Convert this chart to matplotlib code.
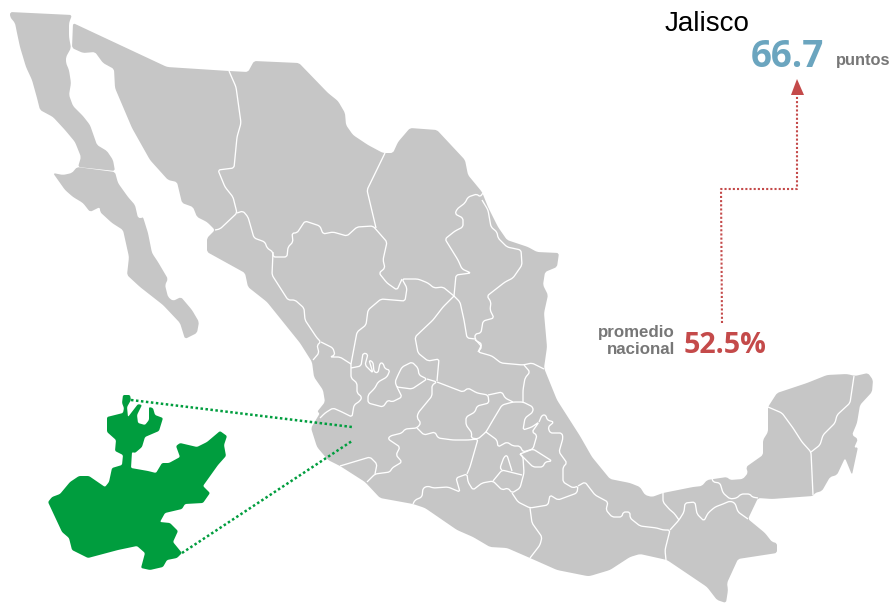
import math
import matplotlib
matplotlib.use('Agg')
import matplotlib.pyplot as plt
from matplotlib.patches import PathPatch, Polygon
from matplotlib.path import Path

GRAY = '#c6c6c6'
GREEN = '#009d3e'
RED = '#c44a4a'
BLUE = '#6ba5bf'
TEXT_GRAY = '#777777'

# map outlines (x, y in image pixels)
baja_norte = [(10,12),(72,15),(69,23),(69,37),(71,48),(66,57),(66,63),(69,70),(71,83),(69,95),(73,106),
              (83,116),(90,125),(97,145),(107,151),(113,160),(115,171),(78,167),(81,157),(75,142),(65,130),
              (53,117),(40,110),(37,98),(32,80),(26,67),(20,47),(17,33),(15,23),(10,17)]
baja_sur = [(53,173),(63,175),(72,173),(77,167),(115,172),(118,183),(128,197),(135,205),(138,218),(142,218),
            (143,217),(148,233),(152,253),(158,262),(168,279),(165,285),(168,297),(173,301),(181,297),(192,310),
            (199,322),(197,333),(185,339),(180,323),(163,305),(140,287),(127,275),(129,257),(123,230),(112,223),
            (100,212),(100,207),(90,212),(83,203),(73,197),(65,190)]
mainland = [(73,23),(167,67),(229,71),(248,72),(254,61),(299,63),(328,93),(338,101),(345,113),(346,125),
            (353,135),(368,145),(383,153),(393,153),(398,142),(410,128),(437,130),(465,160),(468,175),(482,192),
            (488,207),(498,227),(507,240),(528,247),(537,252),(559,253),(557,267),(545,272),(543,285),(548,295),
            (544,313),(547,347),(544,368),(557,400),(580,436),(592,457),(610,479),(630,483),(640,487),(645,495),
            (652,497),(663,493),(693,487),(702,486),(707,480),(727,477),(730,480),(743,479),(748,473),(746,467),
            (763,455),(763,440),(768,432),(768,407),(777,393),(807,383),(827,375),(847,374),(855,376),(868,373),
            (873,380),(872,392),(860,405),(857,423),(852,435),(858,439),(854,448),(858,447),(852,475),(845,458),
            (837,475),(830,477),(822,491),(815,493),(813,496),(772,499),(758,498),(748,519),(765,533),(772,542),
            (777,543),(777,553),(738,559),(727,583),(728,590),(726,603),(717,600),(707,587),(667,560),(640,554),
            (630,557),(610,570),(590,576),(587,576),(557,570),(530,558),(507,548),(490,547),(473,537),(457,530),
            (425,508),(413,504),(380,498),(365,482),(340,466),(328,460),(317,447),(311,428),(320,413),(317,412),
            (325,402),(323,390),(314,377),(312,362),(300,343),(267,302),(248,287),(245,273),(207,252),(207,238),
            (215,230),(207,222),(197,217),(193,207),(182,203),(177,182),(168,180),(150,160),(132,128),(115,88),
            (114,69),(103,63),(95,52),(83,53),(72,48)]

# state borders
borders = [
    [(229,71),(236,87),(241,123),(237,137),(234,168),(218,170),(225,187),(233,197),(237,213),(220,229),(215,230)],
    [(237,213),(243,211),(248,217),(254,238),(265,242),(267,248),(273,252),(273,257),(287,257),(288,247),(293,242),
     (292,233),(297,233),(305,221),(320,226),(323,234),(333,232),(347,236),(357,227),(373,226),(387,242),(383,260),
     (385,268),(379,273),(387,283),(397,290),(402,279)],
    [(385,153),(367,190),(376,228)],
    [(273,252),(272,275),(288,300),(295,300),(304,308),(305,320),(317,338),(321,342),(317,345),(319,353),(313,360)],
    [(321,342),(333,348),(335,355),(330,357),(340,357),(351,364)],
    [(351,364),(357,332),(366,325),(368,310),(381,299),(405,301),(407,288),(402,279),(418,279),(428,283),(434,288),
     (443,287),(454,296)],
    [(454,296),(456,275),(471,273),(462,269),(458,260),(445,239),(455,231),(463,227),(463,218),(455,214),(457,209),
     (465,203),(468,197),(477,194),(480,197),(483,193)],
    [(482,200),(488,210),(491,227),(497,232),(498,238),(507,247),(521,250),(522,265),(513,278),(505,282),(487,296),
     (491,302),(490,310),(494,318),(483,321),(481,333),(475,334),(475,339),(482,347),(478,352),(492,356),(501,363),
     (523,365),(532,363),(538,366),(544,369)],
    [(454,296),(460,302),(464,320),(467,338),(475,339)],
    [(454,296),(443,307),(433,320),(415,337),(418,353),(428,361),(439,359),(437,381)],
    [(351,364),(351,378),(357,383),(357,393),(362,397),(360,401),(354,405),(352,417),(342,412),(333,408),(325,413),(320,418)],
    [(351,368),(361,366),(363,353),(368,354),(365,365),(373,373),(369,360),(373,362),(374,372),(378,373),(380,363),
     (383,363),(385,369),(390,370),(387,377),(378,382),(375,388),(368,395),(368,403),(383,407),(388,400),(392,402),
     (402,397),(397,387)],
    [(397,387),(395,382),(398,375),(402,367),(412,362),(418,368),(419,375),(427,379),(412,389),(397,387)],
    [(427,379),(437,382),(432,385),(432,396),(418,413),(417,418),(421,423),(417,428),(405,429),(402,433),(390,436),
     (388,439),(400,447),(396,455),(402,462),(392,468),(390,472),(375,474),(367,482)],
    [(340,466),(370,457),(377,464),(375,474)],
    [(413,504),(415,500),(422,497),(423,488),(428,486),(433,488),(448,487),(460,492),(456,478),(467,474),(468,482),
     (473,490),(482,483),(493,481),(502,490),(508,488),(512,493),(520,488),(524,473),(523,457),(520,454)],
    [(417,428),(424,435),(435,432),(438,438),(453,440),(468,440),(478,439),(470,467),(467,474)],
    [(437,382),(463,392),(468,388),(477,393),(488,395),(489,403),(477,406),(475,412),(466,417),(466,425),(472,433),
     (471,438),(478,439),(486,432),(493,420),(502,405),(513,402),(523,402),(533,407),(533,412),(525,418),(523,430),
     (532,427),(539,422),(532,432),(537,435),(533,449),(523,452),(520,446),(513,446),(507,442),(498,447),(497,440),(486,432)],
    [(488,395),(502,392),(505,398),(513,402)],
    [(523,402),(523,390),(525,378),(530,372),(524,365)],
    [(475,340),(482,344),(478,352)],
    [(520,454),(533,449),(552,461),(545,462),(543,467),(533,467),(520,454)],
    [(539,422),(542,415),(546,415),(547,420),(554,422),(548,427),(550,433),(562,433),(563,438),(559,452),(567,463),
     (563,467),(563,482),(573,488),(578,486),(577,493),(558,500),(550,495),(548,505),(530,508),(518,502),(512,493)],
    [(530,508),(532,523),(542,537),(540,545),(530,558)],
    [(493,481),(502,470),(522,475)],
    [(502,470),(500,468),(504,457),(507,455),(512,471)],
    [(578,486),(585,482),(595,495),(608,502),(606,510),(612,517),(622,517),(623,512),(630,512),(630,518),(640,526),
     (657,528),(663,530),(670,530),(665,550),(666,560)],
    [(670,530),(679,520),(684,512),(685,503),(695,502),(697,514),(704,521),(708,513),(715,507),(723,504),(730,501),
     (735,503),(738,512),(748,519)],
    [(663,493),(663,502),(670,510),(674,513),(679,520)],
    [(712,478),(713,482),(720,483),(723,493),(730,499),(737,498),(741,494),(750,494),(752,497),(758,498)],
    [(768,407),(782,413),(793,428),(802,442),(811,452),(813,495)],
    [(854,376),(850,403),(837,415),(835,423),(823,435),(820,445),(811,452)],
]

# inset of the highlighted state
jalisco = [(123,395),(130,395),(131,400),(127,407),(128,417),(138,404),(142,405),(137,415),(138,423),(145,425),
           (149,420),(149,407),(153,408),(155,415),(163,418),(159,431),(145,437),(142,447),(135,453),(132,452),
           (131,468),(148,471),(156,473),(162,463),(169,463),(180,457),(176,446),(180,443),(197,447),(207,442),
           (220,431),(227,436),(224,445),(226,456),(218,465),(203,486),(210,493),(203,503),(185,504),(182,509),
           (165,513),(160,522),(170,523),(178,531),(173,542),(182,553),(177,558),(167,560),(163,567),(150,570),
           (141,568),(145,553),(137,546),(118,550),(88,558),(72,550),(69,538),(62,532),(48,502),(52,497),(60,494),
           (70,482),(79,476),(89,476),(105,487),(109,482),(112,468),(122,465),(123,455),(115,451),(116,440),
           (107,432),(107,417),(123,413),(124,408),(122,403)]
inset_top_x = [131, 352]
inset_top_y = [400, 427]
inset_bottom_x = [182, 352]
inset_bottom_y = [553, 441]

route_x = [722, 721, 797, 797]
route_y = [323, 189, 189, 93]
arrow_head = [(797,79),(804,95),(791,95)]


def rounded_path(points, closed=False, r=3.5):
    # cut every corner with a small curve so the outlines are not jagged
    n = len(points)
    def toward(p, q):
        d = math.hypot(q[0] - p[0], q[1] - p[1])
        t = min(r / d, 0.5) if d else 0
        return (p[0] + (q[0] - p[0]) * t, p[1] + (q[1] - p[1]) * t)

    verts, codes = [], []
    idx = range(n) if closed else range(1, n - 1)
    for i in idx:
        p = points[i]
        a = toward(p, points[i - 1])
        b = toward(p, points[(i + 1) % n])
        if not verts:
            start = a if closed else points[0]
            verts.append(start)
            codes.append(Path.MOVETO)
            if not closed:
                verts.append(a)
                codes.append(Path.LINETO)
        else:
            verts.append(a)
            codes.append(Path.LINETO)
        verts += [p, b]
        codes += [Path.CURVE3, Path.CURVE3]
    if closed:
        verts.append(verts[0])
        codes.append(Path.LINETO)
    else:
        verts.append(points[-1])
        codes.append(Path.LINETO)
    return Path(verts, codes)


fig = plt.figure(figsize=(8.93, 6.04), dpi=100)
ax = fig.add_axes([0, 0, 1, 1])
ax.set_xlim(0, 893)
ax.set_ylim(604, 0)
ax.axis('off')

for shape in [baja_norte, baja_sur, mainland]:
    ax.add_patch(PathPatch(rounded_path(shape, closed=True, r=2.5), facecolor=GRAY, edgecolor='none'))

for line in borders:
    ax.add_patch(PathPatch(rounded_path(line, r=2.5), facecolor='none', edgecolor='white', lw=0.95))

ax.add_patch(PathPatch(rounded_path(jalisco, closed=True, r=1.5), facecolor=GREEN, edgecolor='none'))
ax.plot(inset_top_x, inset_top_y, color=GREEN, lw=1.8, ls=(0, (1, 1)))
ax.plot(inset_bottom_x, inset_bottom_y, color=GREEN, lw=1.8, ls=(0, (1, 1)))

ax.plot(route_x, route_y, color=RED, lw=1.5, ls=(0, (1, 1)))
ax.add_patch(Polygon(arrow_head, closed=True, facecolor=RED, edgecolor='none'))

sans = ['Liberation Sans', 'DejaVu Sans']
ax.text(665, 31, 'Jalisco', family=sans, fontsize=20, color='black', ha='left', va='baseline')
ax.text(751, 67, '66.7', family='Open Sans', weight='bold', fontsize=26.5, color=BLUE, ha='left', va='baseline')
ax.text(890, 65, 'puntos', family=sans, weight='bold', fontsize=11.8, color=TEXT_GRAY, ha='right', va='baseline')
ax.text(675, 337, 'promedio', family=sans, weight='bold', fontsize=12.2, color=TEXT_GRAY, ha='right', va='baseline')
ax.text(675, 354, 'nacional', family=sans, weight='bold', fontsize=12.2, color=TEXT_GRAY, ha='right', va='baseline')
ax.text(684, 353, '52.5%', family='Open Sans', weight='bold', fontsize=20.6, color=RED, ha='left', va='baseline')

fig.savefig('out.png', dpi=100)
